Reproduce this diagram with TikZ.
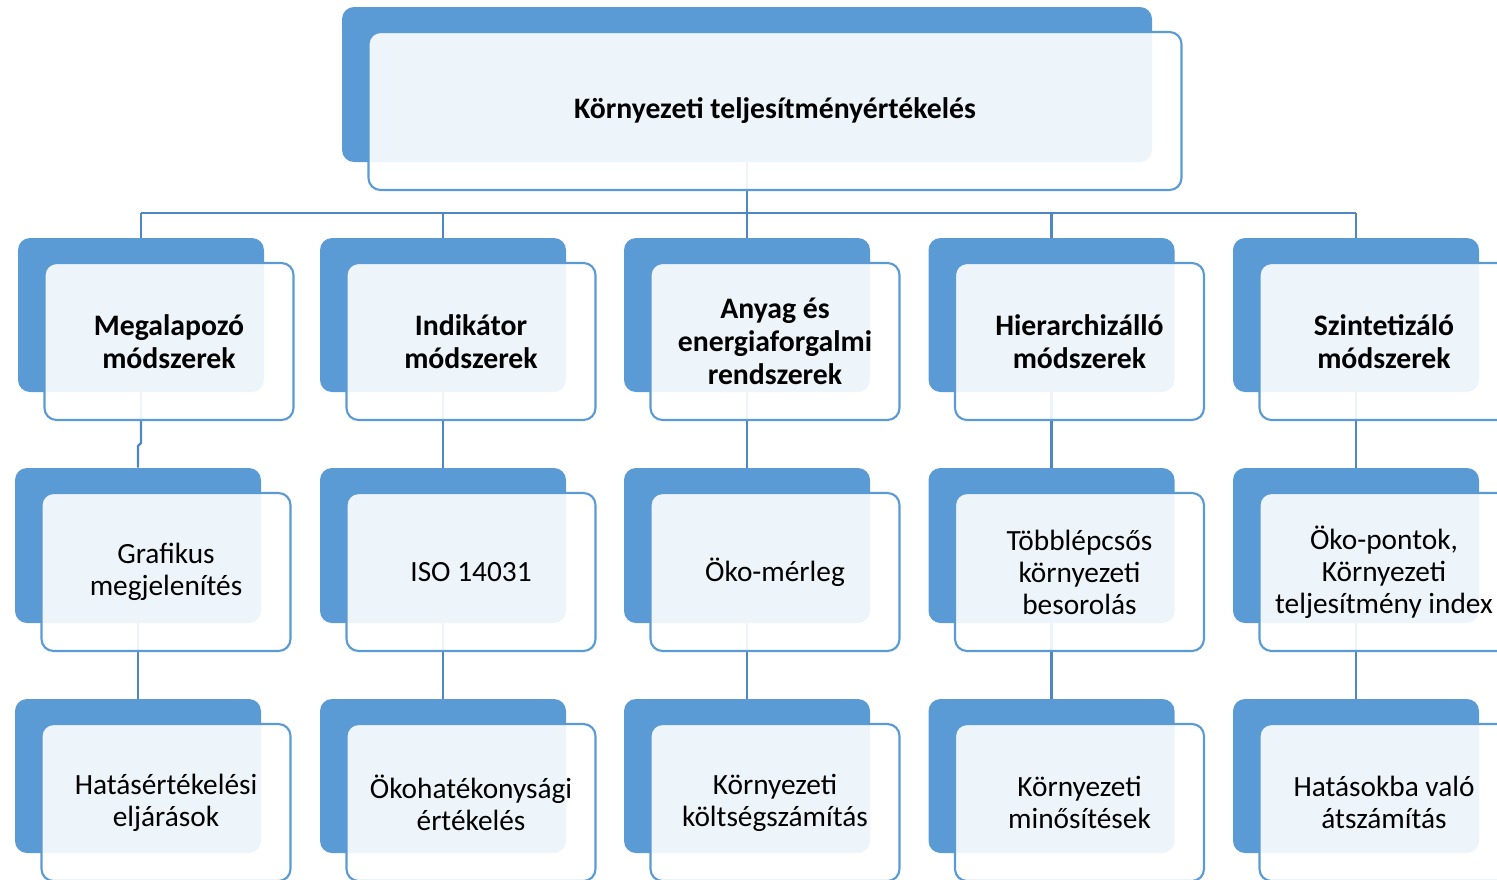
\documentclass[tikz,border=0pt]{standalone}
\usepackage{fontspec}
\setmainfont{Carlito}
\pgfdeclarelayer{bg}
\pgfsetlayers{bg,main}
\definecolor{bluefill}{HTML}{5B9BD5}
\definecolor{blueline}{HTML}{5B9BD5}
\definecolor{connblue}{HTML}{4F87C2}
\tikzset{
  backbox/.style={fill=bluefill, draw=none, rounded corners=9pt, inner sep=0pt},
  frontbox/.style={fill=white, fill opacity=0.9, text opacity=1, draw=blueline, line width=1.6pt,
    rounded corners=9pt, align=center, inner sep=0pt},
  boldtxt/.style={font=\fontsize{22.3}{24.75}\selectfont\bfseries},
  regtxt/.style={font=\fontsize{22}{24.0}\selectfont},
  conn/.style={draw=connblue, line width=1.7pt}
}
% #1 name, #2 cx, #3 cy, #4 w, #5 h (px), #6 text style, #7 text
\newcommand\pairbox[7]{%
  \node[backbox, minimum width=#4*0.75pt, minimum height=#5*0.75pt] (#1b) at (#2,#3) {};
  \node[frontbox, #6, minimum width=(#4+3)*0.75pt, minimum height=(#5+3)*0.75pt] (#1) at (#2+28,#3+26.5) {#7};
}
\begin{document}
\begin{tikzpicture}[x=0.75pt, y=-0.75pt]
\clip (0,0) rectangle (1497,879);
\useasboundingbox (0,0) rectangle (1497,879);
% top
\pairbox{t}{747}{84.5}{810}{155}{boldtxt}{Környezeti teljesítményértékelés}
% level 1
\pairbox{a1}{141}{315}{246}{154}{boldtxt}{Megalapozó\\módszerek}
\pairbox{a2}{443}{315}{246}{154}{boldtxt}{Indikátor\\módszerek}
\pairbox{a3}{747}{315}{246}{154}{boldtxt}{Anyag és\\energiaforgalmi\\rendszerek}
\pairbox{a4}{1051.5}{315}{246}{154}{boldtxt}{Hierarchizálló\\módszerek}
\pairbox{a5}{1356}{315}{246}{154}{boldtxt}{Szintetizáló\\módszerek}
% level 2
\pairbox{c1}{138}{545.5}{246}{155}{regtxt}{Grafikus\\megjelenítés}
\pairbox{c2}{443}{545.5}{246}{155}{regtxt}{ISO 14031}
\pairbox{c3}{747}{545.5}{246}{155}{regtxt}{Öko-mérleg}
\pairbox{c4}{1051.5}{545.5}{246}{155}{regtxt}{Többlépcsős\\környezeti\\besorolás}
\pairbox{c5}{1356}{545.5}{246}{155}{regtxt}{Öko-pontok,\\Környezeti\\teljesítmény index}
% level 3
\pairbox{d1}{138}{776}{246}{154}{regtxt}{Hatásértékelési\\eljárások}
\pairbox{d2}{443}{776}{246}{154}{regtxt}{Ökohatékonysági\\értékelés}
\pairbox{d3}{747}{776}{246}{154}{regtxt}{Környezeti\\költségszámítás}
\pairbox{d4}{1051.5}{776}{246}{154}{regtxt}{Környezeti\\minősítések}
\pairbox{d5}{1356}{776}{246}{154}{regtxt}{Hatásokba való\\átszámítás}
% connectors
\begin{pgfonlayer}{bg}
\coordinate (hub) at (747,213);
\draw[conn] (tb.south) -- (hub);
\draw[conn] (a1b.north |- hub) -- (a5b.north |- hub);
\foreach \i in {1,...,5} {
  \draw[conn] (a\i b.north |- hub) -- (a\i b.north);
}
\draw[conn] (a1b.south) -- (a1b.south |- 0,443) -- (c1b.north |- 0,446) -- (c1b.north);
\foreach \i in {2,...,5} {
  \draw[conn] (a\i b.south) -- (c\i b.north);
}
\foreach \i in {1,...,5} {
  \draw[conn] (c\i b.south) -- (d\i b.north);
}
\end{pgfonlayer}
\end{tikzpicture}
\end{document}
